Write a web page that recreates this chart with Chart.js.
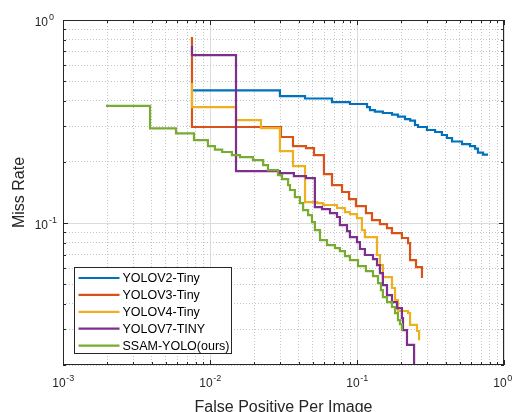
<!DOCTYPE html>
<html>
<head>
<meta charset="utf-8">
<script src="https://cdn.jsdelivr.net/npm/chart.js@4"></script>
<style>
  body { margin: 0; background: #fff; }
  #wrap { width: 512px; height: 412px; }
</style>
</head>
<body>
<div id="wrap"><canvas id="chart" width="512" height="412"></canvas></div>
<script>
const seriesNames = ["YOLOV2-Tiny", "YOLOV3-Tiny", "YOLOV4-Tiny", "YOLOV7-TINY", "SSAM-YOLO(ours)"]
const seriesColors = ["#0072BD", "#D95319", "#EDB120", "#7E2F8E", "#77AC30"]

// false positives per image / miss rate (step corners)
const v2X = [0.00754, 0.0299, 0.0443, 0.0676, 0.0895, 0.117, 0.1225, 0.1324, 0.150, 0.173, 0.190, 0.212, 0.230, 0.248, 0.260, 0.299, 0.340, 0.378, 0.409, 0.443, 0.518, 0.587, 0.636, 0.665, 0.72, 0.778]
const v2Y = [0.45, 0.422, 0.4105, 0.3945, 0.3857, 0.3727, 0.3602, 0.354, 0.3483, 0.3423, 0.3346, 0.3253, 0.3198, 0.304, 0.2972, 0.2873, 0.2808, 0.2714, 0.2623, 0.2521, 0.2450, 0.2395, 0.2328, 0.2225, 0.2175, 0.2175]

const v3X = [0.00754, 0.00754, 0.0304, 0.0367, 0.0450, 0.0510, 0.0596, 0.0676, 0.0791, 0.0882, 0.0984, 0.115, 0.1265, 0.1432, 0.160, 0.173, 0.202, 0.2225, 0.2296, 0.252, 0.2767]
const v3Y = [0.825, 0.2972, 0.2653, 0.2395, 0.2341, 0.2163, 0.1743, 0.1539, 0.1422, 0.1313, 0.1213, 0.1120, 0.1034, 0.0989, 0.0945, 0.0893, 0.0844, 0.0797, 0.0657, 0.0607, 0.0536]

const v4X = [0.00754, 0.00754, 0.01503, 0.0222, 0.0299, 0.0367, 0.0443, 0.0535, 0.0587, 0.0731, 0.0828, 0.0895, 0.100, 0.108, 0.1132, 0.1368, 0.1432, 0.150, 0.173, 0.1815, 0.190, 0.2225, 0.2296, 0.256, 0.2645]
const v4Y = [0.4895, 0.3727, 0.3216, 0.2937, 0.2263, 0.1909, 0.1269, 0.1255, 0.1227, 0.1186, 0.1133, 0.1107, 0.1058, 0.0924, 0.0853, 0.0696, 0.0621, 0.0542, 0.0479, 0.0418, 0.0369, 0.0360, 0.0315, 0.0294, 0.0265]

const v7X = [0.00754, 0.00754, 0.01503, 0.0299, 0.0372, 0.0450, 0.0517, 0.0578, 0.0655, 0.0731, 0.0765, 0.0855, 0.0895, 0.100, 0.1047, 0.1132, 0.1285, 0.1368, 0.1432, 0.150, 0.160, 0.173, 0.187, 0.202, 0.2056, 0.2188, 0.2445]
const v7Y = [0.745, 0.672, 0.1804, 0.1763, 0.1704, 0.1666, 0.1199, 0.1172, 0.1120, 0.1071, 0.0977, 0.0913, 0.0853, 0.0806, 0.0745, 0.0696, 0.0665, 0.0621, 0.0567, 0.0495, 0.0442, 0.0408, 0.0381, 0.0340, 0.0297, 0.0251, 0.019]

const ssamX = [0.00196, 0.00391, 0.00587, 0.00778, 0.00968, 0.0108, 0.0121, 0.0141, 0.0160, 0.0196, 0.0230, 0.0248, 0.0290, 0.0309, 0.0340, 0.0350, 0.0378, 0.0409, 0.0430, 0.0465, 0.0494, 0.0517, 0.0560, 0.0625, 0.0708, 0.0765, 0.0828, 0.0895, 0.1016, 0.115, 0.1285, 0.139, 0.1455, 0.150, 0.160, 0.173, 0.1815, 0.190, 0.196, 0.202]
const ssamY = [0.378, 0.2927, 0.2767, 0.2564, 0.2395, 0.2302, 0.2239, 0.2163, 0.2114, 0.2043, 0.1931, 0.1824, 0.1723, 0.1647, 0.1539, 0.1455, 0.1343, 0.1255, 0.1159, 0.1095, 0.1011, 0.0924, 0.0824, 0.0779, 0.0753, 0.0728, 0.0688, 0.0657, 0.0614, 0.0580, 0.0548, 0.0506, 0.0468, 0.0432, 0.0408, 0.0386, 0.0360, 0.0333, 0.0318, 0.0294]

// tick labels are 10 with a raised exponent
const xMajor = [0.001, 0.01, 0.1, 1]
const xTickExp = ["-3", "-2", "-1", "0"]
const yMajor = [0.1, 1]
const yTickExp = ["-1", "0"]

const FONT = "'Liberation Sans', Arial, Helvetica, sans-serif"
const TEXT = "#262626"

const allX = [v2X, v3X, v4X, v7X, ssamX]
const allY = [v2Y, v3Y, v4Y, v7Y, ssamY]

const datasets = seriesNames.map((name, i) => ({
  label: name,
  data: allX[i].map((x, j) => ({ x: x, y: allY[i][j] })),
  borderColor: seriesColors[i],
  backgroundColor: seriesColors[i],
  borderWidth: 2.2,
  pointRadius: 0,
  stepped: true,
  fill: false,
  order: seriesNames.length - i,
}))

// every 1..9 multiple per decade between min and max
const logTicks = (min, max) => {
  const ticks = []
  for (let e = Math.floor(Math.log10(min)); e <= Math.ceil(Math.log10(max)); e++) {
    for (let k = 1; k < 10; k++) {
      const v = Number((k * Math.pow(10, e)).toPrecision(6))
      if (v >= min * 0.999 && v <= max * 1.001) ticks.push({ value: v, major: k === 1 })
    }
  }
  return ticks
}

const majorIndex = (majors, v) => majors.findIndex(m => Math.abs(Math.log10(m) - Math.log10(v)) < 1e-6)

const axisOpts = (min, max, majors) => ({
  type: "logarithmic",
  min: min,
  max: max,
  afterBuildTicks: s => { s.ticks = logTicks(min, max) },
  ticks: {
    autoSkip: false,
    maxRotation: 0,
    minRotation: 0,
    color: TEXT,
    font: { family: FONT, size: 12 },
    callback: v => (majorIndex(majors, v) < 0 ? "" : "10"),
  },
  grid: {
    drawTicks: false,
    lineWidth: 1,
    color: c => (c.tick && c.tick.major ? "#dcdcdc" : "#c4c4c4"),
  },
  border: {
    display: false,
    dash: c => (c.tick && c.tick.major ? [] : [1, 2]),
  },
})

const xAxis = axisOpts(0.001, 1, xMajor)
xAxis.ticks.padding = 11
xAxis.ticks.labelOffset = -4
xAxis.title = { display: true, text: "False Positive Per Image", color: TEXT, font: { family: FONT, size: 16, lineHeight: 0.6 }, padding: 0 }
xAxis.afterFit = s => { s.height = 47; s.paddingLeft = 0; s.paddingRight = 0 }

const yAxis = axisOpts(0.02, 1, yMajor)
yAxis.ticks.padding = 15
yAxis.ticks.labelOffset = 3
yAxis.title = { display: true, text: "Miss Rate", color: TEXT, font: { family: FONT, size: 16 }, padding: { top: 10.4, bottom: 0 } }
yAxis.afterFit = s => { s.width = 63; s.paddingTop = 0; s.paddingBottom = 0 }

// MATLAB-ish box, inward tick marks, tick exponents and boxed legend
const frame = {
  id: "frame",
  afterDatasetsDraw(chart) {
    const { ctx, chartArea: a, scales } = chart
    ctx.save()
    ctx.strokeStyle = TEXT
    ctx.lineWidth = 1
    ctx.beginPath()
    scales.x.ticks.forEach(t => {
      const p = Math.round(scales.x.getPixelForValue(t.value)) + 0.5
      const len = t.major ? 5 : 3
      ctx.moveTo(p, a.bottom); ctx.lineTo(p, a.bottom - len)
      ctx.moveTo(p, a.top); ctx.lineTo(p, a.top + len)
    })
    scales.y.ticks.forEach(t => {
      const p = Math.round(scales.y.getPixelForValue(t.value)) + 0.5
      const len = t.major ? 5 : 3
      ctx.moveTo(a.left, p); ctx.lineTo(a.left + len, p)
      ctx.moveTo(a.right, p); ctx.lineTo(a.right - len, p)
    })
    ctx.stroke()
    ctx.strokeRect(a.left + 0.5, a.top + 0.5, a.right - a.left - 1, a.bottom - a.top - 1)

    const lx = a.left + 11.5, lw = 157, lh = 86
    const ly = a.bottom - 11.5 - lh
    ctx.fillStyle = "#fff"
    ctx.fillRect(lx, ly, lw, lh)
    ctx.strokeRect(lx, ly, lw, lh)
    ctx.font = "12.5px " + FONT
    ctx.textBaseline = "middle"
    ctx.textAlign = "left"
    chart.data.datasets.forEach((d, i) => {
      const ry = ly + 10.5 + i * 16.9
      ctx.strokeStyle = d.borderColor
      ctx.lineWidth = 2.2
      ctx.beginPath()
      ctx.moveTo(lx + 4, ry); ctx.lineTo(lx + 45, ry)
      ctx.stroke()
      ctx.fillStyle = "#000"
      ctx.fillText(d.label, lx + 48, ry + 0.5)
    })
    ctx.restore()
  },
  afterDraw(chart) {
    const { ctx, chartArea: a, scales } = chart
    ctx.save()
    ctx.font = "12px " + FONT
    const baseW = ctx.measureText("10").width
    ctx.font = "9px " + FONT
    ctx.fillStyle = TEXT
    ctx.textBaseline = "middle"
    ctx.textAlign = "left"
    xMajor.forEach((v, i) => {
      const p = scales.x.getPixelForValue(v) - 4
      ctx.fillText(xTickExp[i], p + baseW / 2 + 0.5, a.bottom + 11 + 7.2 - 5)
    })
    yMajor.forEach((v, i) => {
      const p = scales.y.getPixelForValue(v) + 3
      ctx.fillText(yTickExp[i], a.left - 15 + 1, p - 5.5)
    })
    ctx.restore()
  },
}

new Chart(document.getElementById("chart"), {
  type: "line",
  data: { datasets: datasets },
  options: {
    responsive: false,
    animation: false,
    layout: { padding: { left: 0, right: 8, top: 20, bottom: 0 } },
    scales: { x: xAxis, y: yAxis },
    plugins: {
      legend: { display: false },
      tooltip: { enabled: false },
    },
  },
  plugins: [frame],
})
</script>
</body>
</html>
